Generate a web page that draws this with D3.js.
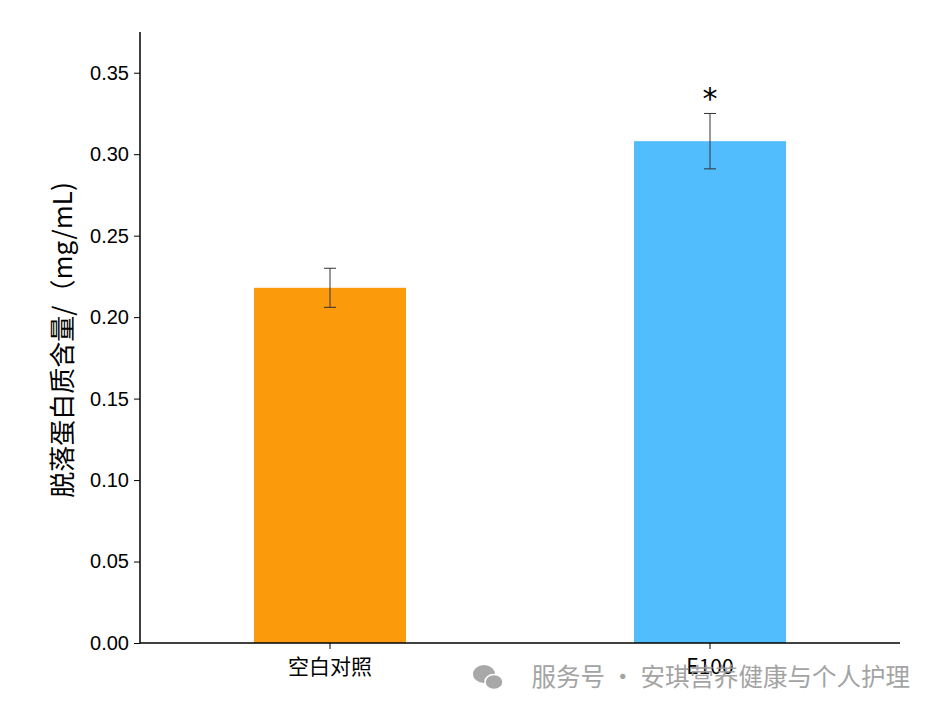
<!DOCTYPE html>
<html><head><meta charset="utf-8">
<script src="https://cdn.jsdelivr.net/npm/d3@7"></script>
<style>body{margin:0;background:#fff}</style>
</head><body>
<svg id="chart" width="941" height="715"></svg>
<script>
// data
var categories = ["空白对照", "E100"];
var values = [0.218, 0.308];
var errors = [0.012, 0.017];
var colors = ["#fb9a0b", "#52bdfd"];
var marks = ["", "*"];
var yTicks = [0, 0.05, 0.10, 0.15, 0.20, 0.25, 0.30, 0.35];

var svg = d3.select("#chart");
var font = "'Noto Sans CJK SC', 'Noto Sans', sans-serif";

var x = d3.scaleBand().domain(categories).range([140, 900]).paddingInner(0.6).paddingOuter(0.3);
var y = d3.scaleLinear().domain([0, 0.375]).range([643, 32]);

// bars
svg.selectAll("rect.bar").data(values).enter().append("rect")
  .attr("x", (d, i) => x(categories[i]))
  .attr("width", x.bandwidth())
  .attr("y", d => y(d))
  .attr("height", d => y(0) - y(d))
  .attr("fill", (d, i) => colors[i]);

// error bars
values.forEach((v, i) => {
  var cx = x(categories[i]) + x.bandwidth() / 2;
  var g = svg.append("g").attr("stroke", "#333").attr("stroke-width", 1);
  g.append("line").attr("x1", cx).attr("x2", cx).attr("y1", y(v - errors[i])).attr("y2", y(v + errors[i]));
  g.append("line").attr("x1", cx - 6).attr("x2", cx + 6).attr("y1", y(v - errors[i])).attr("y2", y(v - errors[i]));
  g.append("line").attr("x1", cx - 6).attr("x2", cx + 6).attr("y1", y(v + errors[i])).attr("y2", y(v + errors[i]));
  if (marks[i]) {
    svg.append("text").attr("x", cx).attr("y", y(v + errors[i]) - 4)
      .attr("text-anchor", "middle").attr("font-size", 30).attr("font-family", "'DejaVu Sans', sans-serif")
      .text(marks[i]);
  }
});

// axes
var yAxis = svg.append("g").attr("transform", "translate(140,0)")
  .call(d3.axisLeft(y).tickValues(yTicks).tickFormat(d3.format(".2f")).tickSizeOuter(0).tickSize(6));
yAxis.select(".domain").attr("d", "M0,643V32").attr("stroke-width", 1.5);
yAxis.selectAll("text").attr("font-size", 20).attr("font-family", "'Liberation Sans', Arial, sans-serif").attr("fill", "#000").attr("dx", -2);

var xAxis = svg.append("g").attr("transform", "translate(0,643)")
  .call(d3.axisBottom(x).tickSizeOuter(0).tickSize(6));
xAxis.select(".domain").attr("d", "M140,0H900").attr("stroke-width", 1.5);
xAxis.selectAll("text").attr("font-size", 21).attr("font-family", font).attr("fill", "#000").attr("dy", "1.05em");

// y label
svg.append("text").attr("transform", "translate(72,340) rotate(-90)")
  .attr("text-anchor", "middle").attr("font-size", 26).attr("font-family", font)
  .text("脱落蛋白质含量/（mg/mL)");

// watermark
svg.append("text").attr("x", 910).attr("y", 686).attr("text-anchor", "end")
  .attr("font-size", 24.5).attr("font-family", font).attr("fill", "#9a9a9a").attr("opacity", 0.9)
  .text("服务号 · 安琪营养健康与个人护理");
var w = svg.append("g").attr("fill", "#a8a8a8");
w.append("ellipse").attr("cx", 484).attr("cy", 674).attr("rx", 11).attr("ry", 9);
w.append("ellipse").attr("cx", 494).attr("cy", 682).attr("rx", 9).attr("ry", 7.5).attr("stroke", "#fff").attr("stroke-width", 1.5);
</script>
</body></html>
